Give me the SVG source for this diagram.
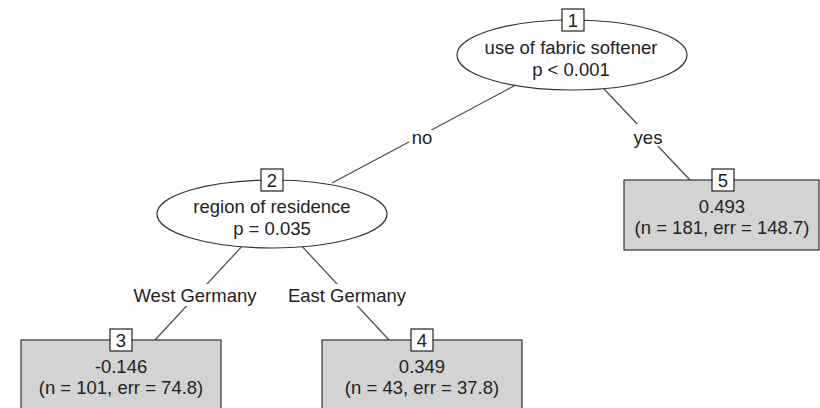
<svg xmlns="http://www.w3.org/2000/svg" width="820" height="408" viewBox="0 0 820 408">
  <style>
    text { font-family: "Liberation Sans", Arial, sans-serif; font-size: 18.5px; fill: #222; text-anchor: middle; }
    .edge { stroke: #4a4a4a; stroke-width: 1.2; fill: none; }
    .inner { fill: #fff; stroke: #333; stroke-width: 1.2; }
    .leaf { fill: #d3d3d3; stroke: #333; stroke-width: 1.2; }
    .idbox { fill: #fff; stroke: #222; stroke-width: 1.2; }
    .lblbg { fill: #fff; stroke: none; }
  </style>

  <rect width="820" height="408" fill="#fff"/>

  <!-- connectors run centre to centre; node shapes are painted over them -->
  <g id="edges">
    <line class="edge" x1="572" y1="55" x2="332" y2="183"/>
    <line class="edge" x1="572" y1="55" x2="690" y2="180"/>
    <line class="edge" x1="272" y1="214" x2="155" y2="340"/>
    <line class="edge" x1="272" y1="214" x2="389" y2="340"/>

    <rect class="lblbg" x="409" y="130" width="27" height="13"/>
    <text x="422" y="144">no</text>
    <rect class="lblbg" x="630" y="124" width="35" height="22"/>
    <text x="648" y="144">yes</text>
    <rect class="lblbg" x="130" y="284" width="130" height="22"/>
    <text x="195" y="302">West Germany</text>
    <rect class="lblbg" x="284" y="284" width="125" height="22"/>
    <text x="347" y="302">East Germany</text>
  </g>

  <!-- node 1: inner split -->
  <g id="node1">
    <ellipse class="inner" cx="572" cy="55" rx="115" ry="35"/>
    <rect class="idbox" x="562" y="9" width="22" height="22"/>
    <text x="573" y="27">1</text>
    <text x="571" y="54">use of fabric softener</text>
    <text x="571" y="76">p &lt; 0.001</text>
  </g>

  <!-- node 2: inner split -->
  <g id="node2">
    <ellipse class="inner" cx="272" cy="214" rx="115" ry="34"/>
    <rect class="idbox" x="261" y="169" width="22" height="22"/>
    <text x="272" y="187">2</text>
    <text x="272" y="213">region of residence</text>
    <text x="272" y="235">p = 0.035</text>
  </g>

  <!-- node 3: terminal -->
  <g id="node3">
    <rect class="leaf" x="21" y="340" width="200" height="80"/>
    <rect class="idbox" x="110" y="329" width="22" height="22"/>
    <text x="121" y="347">3</text>
    <text x="121" y="373">-0.146</text>
    <text x="121" y="394">(n = 101, err = 74.8)</text>
  </g>

  <!-- node 4: terminal -->
  <g id="node4">
    <rect class="leaf" x="322" y="340" width="200" height="80"/>
    <rect class="idbox" x="411" y="329" width="22" height="22"/>
    <text x="422" y="347">4</text>
    <text x="422" y="373">0.349</text>
    <text x="422" y="394">(n = 43, err = 37.8)</text>
  </g>

  <!-- node 5: terminal -->
  <g id="node5">
    <rect class="leaf" x="624" y="180" width="195" height="70"/>
    <rect class="idbox" x="712" y="169" width="22" height="22"/>
    <text x="723" y="187">5</text>
    <text x="722" y="213">0.493</text>
    <text x="722" y="234">(n = 181, err = 148.7)</text>
  </g>
</svg>
